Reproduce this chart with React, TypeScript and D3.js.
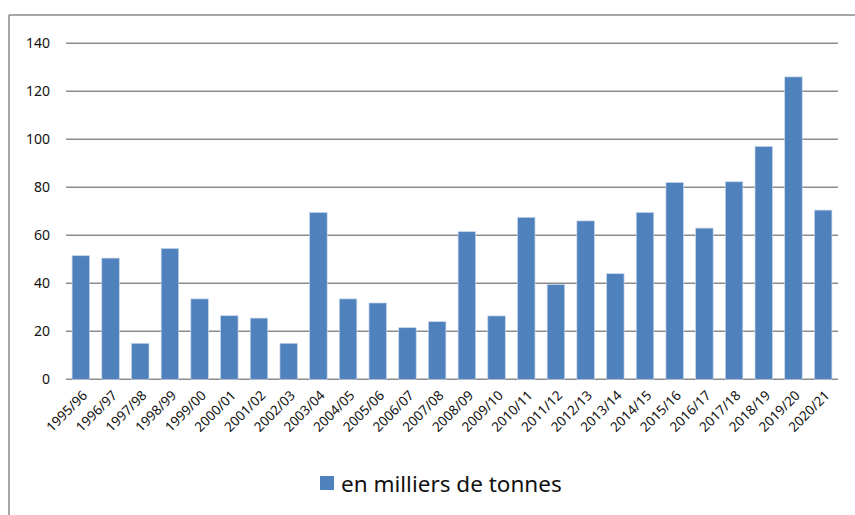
import React from "react";
import * as d3 from "d3";

const categories = [
  "1995/96", "1996/97", "1997/98", "1998/99", "1999/00", "2000/01", "2001/02",
  "2002/03", "2003/04", "2004/05", "2005/06", "2006/07", "2007/08", "2008/09",
  "2009/10", "2010/11", "2011/12", "2012/13", "2013/14", "2014/15", "2015/16",
  "2016/17", "2017/18", "2018/19", "2019/20", "2020/21",
];
const values = [
  51.5, 50.5, 15, 54.5, 33.5, 26.5, 25.5, 15, 69.5, 33.5, 31.8, 21.5, 24, 61.5,
  26.4, 67.5, 39.5, 66, 44, 69.5, 82, 63, 82.3, 97, 126, 70.5,
];
const yTicks = [0, 20, 40, 60, 80, 100, 120, 140];
const seriesName = "en milliers de tonnes";

const W = 855;
const H = 515;
const FONT = "'Noto Sans', 'Open Sans', sans-serif";

export default function App() {
  const x = d3.scaleBand<string>().domain(categories).range([66, 838]).paddingInner(0.41).paddingOuter(0.205);
  const y = d3.scaleLinear().domain([0, 140]).range([379.3, 43.3]);
  const bw = x.bandwidth();
  return (
    <svg width={W} height={H} style={{ position: "absolute", left: 0, top: 0, background: "#fff" }}>
      <line x1={9} y1={15} x2={W} y2={15} stroke="#8a8a8a" strokeWidth={1.5} />
      <line x1={9} y1={15} x2={9} y2={H} stroke="#8a8a8a" strokeWidth={1.5} />
      {yTicks.map((t) => (
        <g key={t}>
          <line x1={66} x2={838} y1={y(t)} y2={y(t)} stroke="#8c8c8c" strokeWidth={1.6} />
          <text x={50} y={y(t)} dy="0.36em" textAnchor="end" fontFamily={FONT} fontSize={14} fill="#111">
            {t}
          </text>
        </g>
      ))}
      {categories.map((c, i) => (
        <rect
          key={c}
          x={x(c)!}
          y={y(values[i])}
          width={bw}
          height={y(0) - y(values[i])}
          fill="#4F81BD"
          stroke="#c6d6ea"
          strokeWidth={0.7}
        />
      ))}
      {categories.map((c) => {
        const cx = x(c)! + bw / 2 + 4;
        const cy = 393;
        return (
          <text
            key={c}
            transform={`translate(${cx},${cy}) rotate(-45)`}
            textAnchor="end"
            dy="0.35em"
            fontFamily={FONT}
            fontSize={13.5}
            fill="#111"
          >
            {c}
          </text>
        );
      })}
      <rect x={320} y={476} width={14} height={14} fill="#4F81BD" />
      <text x={341} y={492} fontFamily={FONT} fontSize={22.5} fill="#111">
        {seriesName}
      </text>
    </svg>
  );
}
